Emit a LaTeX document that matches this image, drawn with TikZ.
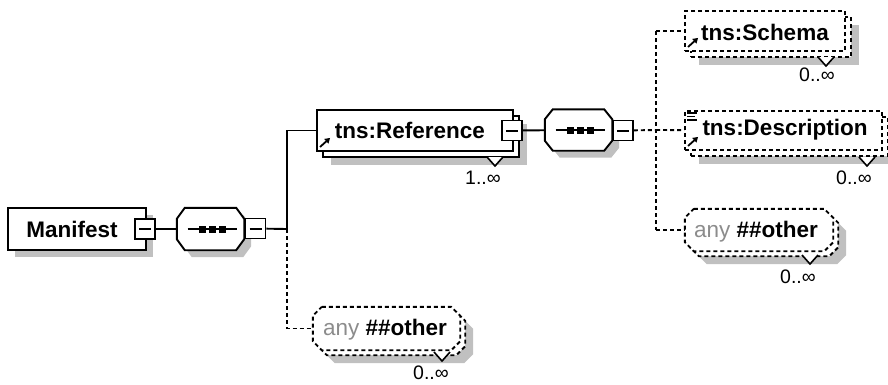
\documentclass[tikz,border=0pt]{standalone}
\usepackage{fontspec}
\setmainfont{Liberation Sans}
\usetikzlibrary{arrows.meta}
\definecolor{shade}{RGB}{192,192,192}
\definecolor{anygray}{RGB}{140,140,140}

% outline of a node's box with cut corners: #1 path options, #2 node, #3 x cut, #4 y cut
\newcommand\chamfpath[4]{%
  \path[#1] ([shift={(#3,0)}]#2.north west) -- ([shift={(-#3,0)}]#2.north east)
    -- ([shift={(0,#4)}]#2.north east) -- ([shift={(0,-#4)}]#2.south east)
    -- ([shift={(-#3,0)}]#2.south east) -- ([shift={(#3,0)}]#2.south west)
    -- ([shift={(0,-#4)}]#2.south west) -- ([shift={(0,#4)}]#2.north west) -- cycle;}

\tikzset{
  ln/.style={line width=1.9pt},
  dsh/.style={line width=1.9pt, dash pattern=on 4pt off 3pt},
  boxsize/.style 2 args={minimum width=#1pt, minimum height=#2pt},
  elembox/.style={rectangle, draw, ln, fill=white, inner sep=0pt},
  optbox/.style={rectangle, draw, dsh, fill=white, inner sep=0pt},
  shadowbox/.style={rectangle, fill=shade, draw=none, inner sep=0pt},
  frame/.style={rectangle, draw=none, inner sep=0pt},
  minusbox/.style={rectangle, draw, ln, fill=white, minimum size=20pt, inner sep=0pt,
    path picture={\draw[line width=2pt]
      ([xshift=4pt]path picture bounding box.west) --
      ([xshift=-4pt]path picture bounding box.east);}},
  ename/.style={font=\fontsize{22.5}{25}\selectfont\bfseries, inner sep=0pt},
  card/.style={font=\fontsize{19.5}{22}\selectfont, inner sep=0pt},
  seqdots/.pic={
    \draw[ln] (-23,0) -- (26,0);
    \fill (-12,-3.5) rectangle (-5,3.5);
    \fill (-2,-3.5) rectangle (5,3.5);
    \fill (8,-3.5) rectangle (15,3.5);
  },
  mult/.pic={\filldraw[fill=white, line width=1.6pt] (-8,0) -- (0,9) -- (8,0);},
  refarrow/.pic={\draw[line width=1.8pt, -{Triangle[length=5pt,width=6pt]}] (0,0) -- (10,-9);},
}

\begin{document}
\begin{tikzpicture}[x=1pt, y=-1pt]
\useasboundingbox (0,0) rectangle (888,384);

% ---- root element ----
\node[shadowbox, boxsize={138}{42}] (man-sh) at (84,236) {};
\node[elembox, boxsize={138}{42}] (man) at (77,229) {};
\node[ename] (man-t) at (72,229) {Manifest};
\node[minusbox] (man-m) at (145,229) {};

% ---- outer sequence ----
\node[frame, boxsize={67}{42}] (seq1-sh) at (217.5,236) {};
\node[frame, boxsize={67}{42}] (seq1) at (210.5,229) {};
\chamfpath{fill=shade}{seq1-sh}{8}{11}
\chamfpath{draw, ln, fill=white}{seq1}{8}{11}
\pic at (seq1.center) {seqdots};
\node[minusbox] (seq1-m) at (255.5,228.5) {};
\coordinate (j1) at (287,229);

% ---- tns:Reference (1..unbounded) ----
\node[shadowbox, boxsize={196}{41}] (ref-sh) at (429,144.5) {};
\node[elembox, boxsize={196}{41}] (ref-bk) at (421,136.5) {};
\node[elembox, boxsize={196}{41}] (ref) at (415,130.5) {};
\node[ename] (ref-t) at (410,130) {tns:Reference};
\pic at ([shift={(4,-5)}]ref.south west) {refarrow};
\node[minusbox] (ref-m) at (512,130.5) {};
\pic at (495,157) {mult};
\node[card] (ref-c) at (483,178) {1..∞};

% ---- inner sequence ----
\node[frame, boxsize={67}{41}] (seq2-sh) at (585.5,137) {};
\node[frame, boxsize={67}{41}] (seq2) at (578.5,130) {};
\chamfpath{fill=shade}{seq2-sh}{8}{10}
\chamfpath{draw, ln, fill=white}{seq2}{8}{10}
\pic at (seq2.center) {seqdots};
\node[minusbox] (seq2-m) at (623,130.5) {};
\coordinate (j2) at (656,130);

% ---- tns:Schema ----
\node[shadowbox, boxsize={160}{40}] (sch-sh) at (779,45) {};
\node[optbox, boxsize={160}{40}] (sch-bk) at (771,37) {};
\node[optbox, boxsize={160}{40}] (sch) at (765,31) {};
\node[ename] (sch-t) at (765,32) {tns:Schema};
\pic at ([shift={(4,-5)}]sch.south west) {refarrow};
\pic at (826,57) {mult};
\node[card] (sch-c) at (817,75) {0..∞};

% ---- tns:Description ----
\node[shadowbox, boxsize={197}{39}] (desc-sh) at (797.5,144.5) {};
\node[optbox, boxsize={197}{39}] (desc-bk) at (789.5,136.5) {};
\node[optbox, boxsize={197}{39}] (desc) at (783.5,130.5) {};
\node[ename] (desc-t) at (785,130) {tns:Description};
\pic at ([shift={(4,-5)}]desc.south west) {refarrow};
\foreach \yy/\len in {0/10,3.5/8,7/10}
  \draw[line width=1.3pt] ([shift={(3,3+\yy)}]desc.north west) -- ++(\len,0);
\pic at (867,157) {mult};
\node[card] (desc-c) at (854,178) {0..∞};

% ---- any ##other (inside inner sequence) ----
\node[frame, boxsize={148}{42}] (anyR-sh) at (772,243) {};
\node[frame, boxsize={148}{42}] (anyR-bk) at (764,235) {};
\node[frame, boxsize={148}{42}] (anyR) at (759,230) {};
\chamfpath{fill=shade}{anyR-sh}{9}{9}
\chamfpath{draw, dsh, fill=white}{anyR-bk}{9}{9}
\chamfpath{draw, dsh, fill=white}{anyR}{9}{9}
\node[ename] (anyR-t) at (756,232) {\textcolor{anygray}{\mdseries any} \#\#other};
\pic at (810,255) {mult};
\node[card] (anyR-c) at (798,277) {0..∞};

% ---- any ##other (inside outer sequence) ----
\node[frame, boxsize={147}{43}] (anyL-sh) at (399.5,341.5) {};
\node[frame, boxsize={147}{43}] (anyL-bk) at (391.5,333.5) {};
\node[frame, boxsize={147}{43}] (anyL) at (386.5,328.5) {};
\chamfpath{fill=shade}{anyL-sh}{9}{9}
\chamfpath{draw, dsh, fill=white}{anyL-bk}{9}{9}
\chamfpath{draw, dsh, fill=white}{anyL}{9}{9}
\node[ename] (anyL-t) at (385,330) {\textcolor{anygray}{\mdseries any} \#\#other};
\pic at (442,352) {mult};
\node[card] (anyL-c) at (431,372.5) {0..∞};

% ---- connectors ----
\draw[ln] (man-m) -- (seq1);
\draw[ln] (seq1-m) -- (j1);
\draw[ln] (j1) |- (ref);
\draw[dsh] (j1) |- (anyL);
\draw[ln] (ref-m) -- (seq2);
\draw[dsh] (seq2-m) -- (j2);
\draw[dsh] (sch.west -| j2) -- (anyR.west -| j2);
\draw[dsh] (sch.west -| j2) -- (sch);
\draw[dsh] (j2) -- (desc);
\draw[dsh] (anyR.west -| j2) -- (anyR);
\end{tikzpicture}
\end{document}
